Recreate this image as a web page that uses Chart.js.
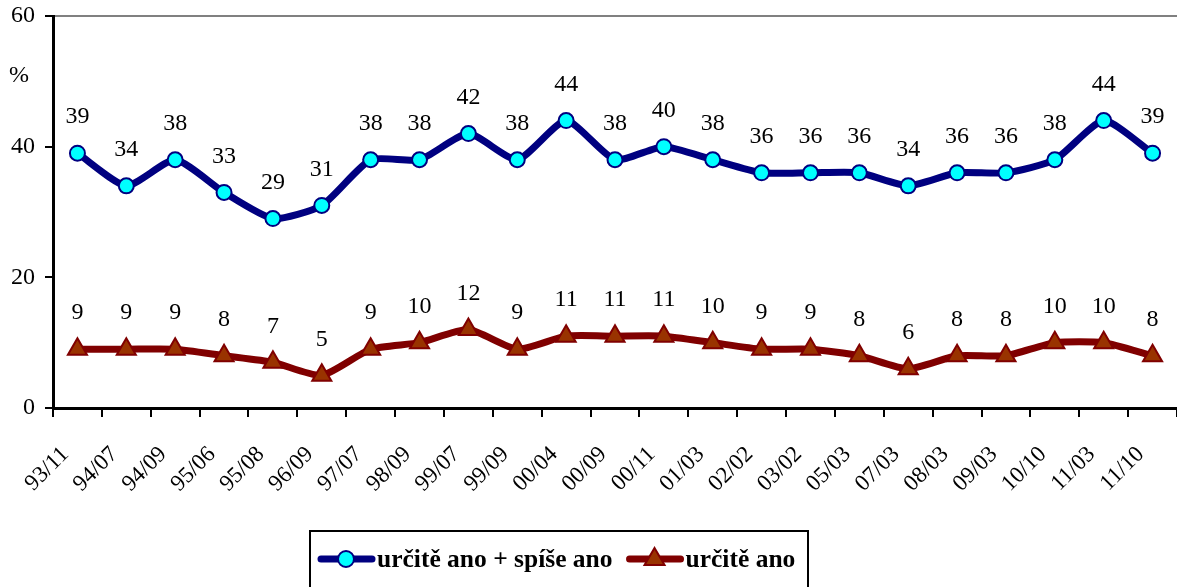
<!DOCTYPE html>
<html>
<head>
<meta charset="utf-8">
<script src="https://cdn.jsdelivr.net/npm/chart.js@4/dist/chart.umd.min.js"></script>
<style>
  html, body { margin: 0; padding: 0; background: #fff; overflow: hidden; }
  #wrap { width: 1177px; height: 587px; }
</style>
</head>
<body>
<div id="wrap"><canvas id="c" width="1177" height="587"></canvas></div>
<script>
const labels = ['93/11', '94/07', '94/09', '95/06', '95/08', '96/09', '97/07', '98/09', '99/07', '99/09',
  '00/04', '00/09', '00/11', '01/03', '02/02', '03/02', '05/03', '07/03', '08/03', '09/03',
  '10/10', '11/03', '11/10'];
const urciteSpise = [39, 34, 38, 33, 29, 31, 38, 38, 42, 38, 44, 38, 40, 38, 36, 36, 36, 34, 36, 36, 38, 44, 39];
const urcite = [9, 9, 9, 8, 7, 5, 9, 10, 12, 9, 11, 11, 11, 10, 9, 9, 8, 6, 8, 8, 10, 10, 8];
const yTicks = [0, 20, 40, 60];
const seriesNames = ['určitě ano + spíše ano', 'určitě ano'];

const serif = '"Liberation Serif", "Times New Roman", serif';

// value labels above points
const valueLabels = {
  id: 'valueLabels',
  afterDatasetsDraw(chart) {
    const ctx = chart.ctx;
    ctx.save();
    ctx.font = '24px ' + serif;
    ctx.fillStyle = '#000';
    ctx.textAlign = 'center';
    ctx.textBaseline = 'middle';
    chart.data.datasets.forEach((ds, i) => {
      chart.getDatasetMeta(i).data.forEach((pt, j) => {
        ctx.fillText(String(ds.data[j]), pt.x, pt.y - 36);
      });
    });
    ctx.restore();
  }
};

// "%" under the top tick + boxed legend at the bottom
const extras = {
  id: 'extras',
  afterDraw(chart) {
    const ctx = chart.ctx;
    const y = chart.scales.y;
    ctx.save();
    ctx.font = '24px ' + serif;
    ctx.fillStyle = '#000';
    ctx.textAlign = 'center';
    ctx.textBaseline = 'middle';
    ctx.fillText('%', 19, y.getPixelForValue(50.8));

    // legend box
    const bx = 310, by = 531, bw = 498, bh = 70;
    ctx.lineWidth = 2;
    ctx.strokeStyle = '#000';
    ctx.strokeRect(bx, by, bw, bh);

    const cy = 559;
    ctx.font = 'bold 25.5px ' + serif;
    ctx.textAlign = 'left';
    const sets = chart.data.datasets;
    let x = bx + 11;
    sets.forEach((ds) => {
      ctx.lineCap = 'round';
      ctx.lineWidth = 7;
      ctx.strokeStyle = ds.borderColor;
      ctx.beginPath();
      ctx.moveTo(x, cy);
      ctx.lineTo(x + 51, cy);
      ctx.stroke();
      const mx = x + 25;
      ctx.fillStyle = ds.pointBackgroundColor;
      ctx.strokeStyle = ds.pointBorderColor;
      ctx.lineWidth = 2;
      ctx.beginPath();
      if (ds.pointStyle === 'triangle') {
        ctx.moveTo(mx, cy - 11);
        ctx.lineTo(mx + 10, cy + 6);
        ctx.lineTo(mx - 10, cy + 6);
        ctx.closePath();
      } else {
        ctx.arc(mx, cy, 8, 0, Math.PI * 2);
      }
      ctx.fill();
      ctx.stroke();
      ctx.fillStyle = '#000';
      ctx.fillText(ds.label, x + 56, cy + 1);
      x += 56 + ctx.measureText(ds.label).width + 17;
    });
    ctx.restore();
  }
};

new Chart(document.getElementById('c'), {
  type: 'line',
  data: {
    labels,
    datasets: [
      {
        label: seriesNames[0],
        data: urciteSpise,
        borderColor: '#000080',
        borderWidth: 7,
        tension: 0.2,
        pointStyle: 'circle',
        pointRadius: 7.5,
        pointHoverRadius: 7.5,
        pointBackgroundColor: '#00FFFF',
        pointBorderColor: '#000080',
        pointBorderWidth: 2
      },
      {
        label: seriesNames[1],
        data: urcite,
        borderColor: '#800000',
        borderWidth: 7,
        tension: 0.2,
        pointStyle: 'triangle',
        pointRadius: 11,
        pointHoverRadius: 11,
        pointBackgroundColor: '#993300',
        pointBorderColor: '#800000',
        pointBorderWidth: 2
      }
    ]
  },
  options: {
    responsive: false,
    animation: false,
    layout: { autoPadding: false, padding: { top: 16, right: -3, bottom: 59, left: 0 } },
    plugins: {
      legend: { display: false },
      tooltip: { enabled: false }
    },
    scales: {
      x: {
        offset: true,
        grid: {
          offset: true,
          drawOnChartArea: false,
          drawTicks: true,
          tickLength: 9,
          color: '#000',
          lineWidth: 2
        },
        border: { display: true, color: '#000', width: 3 },
        ticks: {
          autoSkip: false,
          minRotation: 45,
          maxRotation: 45,
          color: '#000',
          padding: 24,
          labelOffset: -12,
          font: { family: serif, size: 23 }
        },
        afterFit(s) {
          s.height = 120;
          s.paddingLeft = 0;
          s.paddingRight = 0;
        }
      },
      y: {
        min: 0,
        max: 60,
        afterBuildTicks(s) { s.ticks = yTicks.map(v => ({ value: v })); },
        grid: {
          drawTicks: true,
          tickLength: 8,
          tickColor: '#000',
          lineWidth: 2,
          color: c => (c.tick && c.tick.value === 60 ? '#808080' : 'rgba(0,0,0,0)')
        },
        border: { display: true, color: '#000', width: 3 },
        ticks: {
          color: '#000',
          padding: 10,
          font: { family: serif, size: 24 }
        },
        afterFit(s) {
          s.width = 53;
          s.paddingTop = 0;
          s.paddingBottom = 0;
        }
      }
    }
  },
  plugins: [valueLabels, extras]
});
</script>
</body>
</html>
